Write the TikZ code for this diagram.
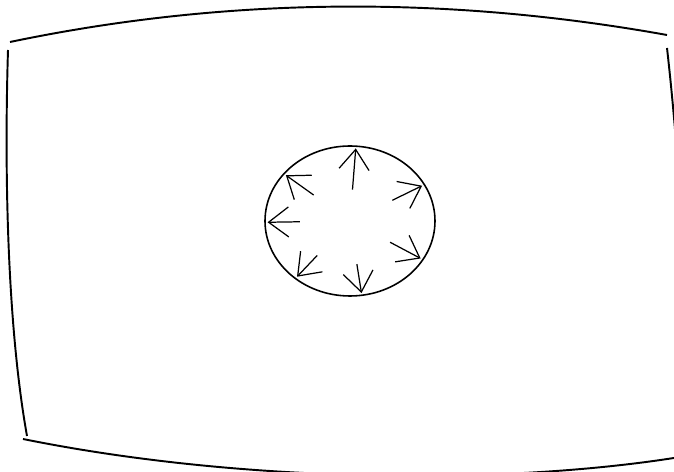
\documentclass[tikz,border=0pt]{standalone}
\usetikzlibrary{calc, arrows.meta}

\begin{document}
\begin{tikzpicture}[x=0.02cm, y=-0.02cm]
    % Define ellipse size
    \def\radX{85}
    \def\radY{75}

    \definecolor{lineColour}{HTML}{000000}

    % Fix the page to the picture size
    \clip (0,0) rectangle (674,472);

    % Corners of the frame
    \coordinate (topLeft) at (10,42);
    \coordinate (topRight) at (667,35);
    \coordinate (leftTop) at (8,50);
    \coordinate (leftBottom) at (27,436);
    \coordinate (bottomLeft) at (23,439);
    \coordinate (bottomRight) at (692,455);
    \coordinate (rightTop) at (667,48);

    % Draw the bent frame
    \draw[draw=lineColour, line width=1.1pt] (topLeft) .. controls (230,-4) and (450,-4) .. (topRight);
    \draw[draw=lineColour, line width=1.1pt] (leftTop) .. controls (4,180) and (8,330) .. (leftBottom);
    \draw[draw=lineColour, line width=1.1pt] (bottomLeft) .. controls (250,485) and (520,485) .. (bottomRight);
    \draw[draw=lineColour, line width=1.1pt] (rightTop) .. controls (682,180) and (688,330) .. (bottomRight);

    % Define the center of the ellipse
    \coordinate (center) at (350,221);

    % Draw the ellipse
    \draw[draw=lineColour, line width=0.9pt] (center) ellipse ({\radX} and {\radY});

    % Draw the arrows pointing outwards
    \foreach \a/\r in {86/0.42, 141/0.55, 181/0.59, 230/0.6, 278/0.58, 329/0.55, 29/0.57} {
        \coordinate (tip\a) at ($(center)+({0.97*\radX*cos(\a)},{-0.97*\radY*sin(\a)})$);
        \coordinate (tail\a) at ($(center)+({\r*\radX*cos(\a)},{-\r*\radY*sin(\a)})$);
        \draw[draw=lineColour, line width=0.7pt, -{Straight Barb[length=4mm, width=6mm]}] (tail\a) -- (tip\a);
    }

\end{tikzpicture}
\end{document}
